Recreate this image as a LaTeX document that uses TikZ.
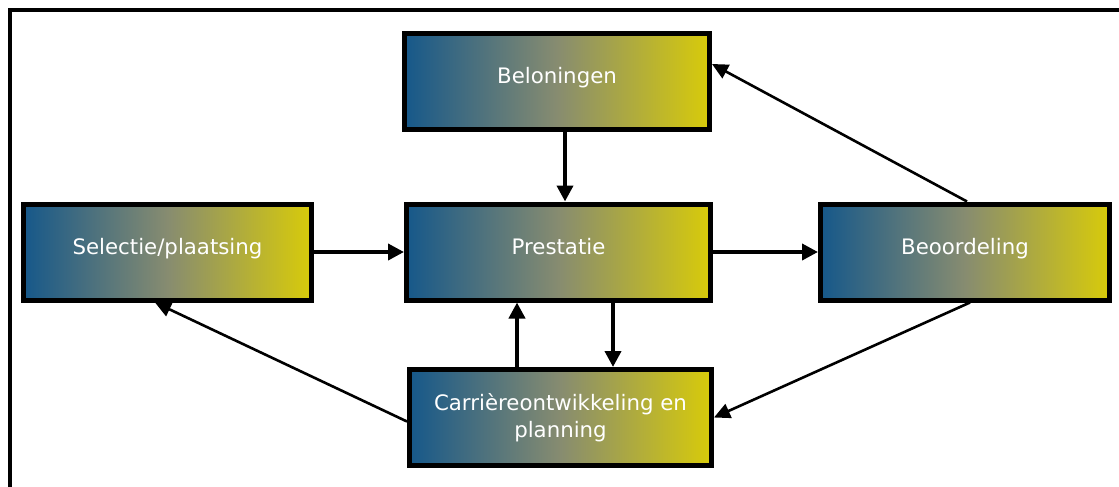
\documentclass[tikz,border=0pt]{standalone}
\usepackage{fontspec}
\setmainfont{DejaVu Sans}
\usetikzlibrary{arrows.meta}
\definecolor{gradblue}{RGB}{22,88,138}
\definecolor{gradmid}{RGB}{135,140,112}
\definecolor{gradyellow}{RGB}{216,203,10}
\begin{document}
\begin{tikzpicture}[x=1pt,y=-1pt,
  box/.style={draw=black, line width=5pt, left color=gradblue, right color=gradyellow,
    middle color=gradmid, minimum height=96pt, inner sep=2pt, text=white,
    font=\fontsize{21.3}{27}\selectfont, align=center},
  oneline/.style={text height=16pt, text depth=11pt},
  thick arrow/.style={line width=3.8pt, -{Triangle[length=16pt,width=16pt]}},
  thin arrow/.style={line width=2.6pt, -{Triangle[length=16pt,width=15pt]}}]
\useasboundingbox (0,0) rectangle (1119,487);
% outer frame (top and left edges)
\draw[line width=4pt] (10,487) -- (10,10) -- (1119,10);

% boxes
\node[box, oneline, minimum width=305pt] (bel) at (557,81.5) {Beloningen};
\node[box, oneline, minimum width=288pt] (sel) at (167.5,252) {Selectie/plaatsing};
\node[box, oneline, minimum width=304pt] (pres) at (558.5,252) {Prestatie};
\node[box, oneline, minimum width=289pt] (beo) at (965,252) {Beoordeling};
\node[box, minimum width=302pt] (carr) at (560.5,417.5) {Carrièreontwikkeling en\\planning};

% connectors
\draw[thick arrow] ([xshift=8pt]bel.south) -- ([xshift=8pt]bel.south |- pres.north);
\draw[thick arrow] (sel.east) -- (pres.west);
\draw[thick arrow] (pres.east) -- (beo.west);
\draw[thick arrow] ([xshift=54.5pt]pres.south) -- ([xshift=54.5pt]pres.south |- carr.north);
\draw[thick arrow] ([xshift=-43.5pt]carr.north) -- ([xshift=-43.5pt]carr.north |- pres.south);
\draw[thin arrow] ([xshift=2pt]beo.north) -- ([yshift=17.5pt]bel.east);
\draw[thin arrow] ([xshift=5pt]beo.south) -- (carr.east);
\draw[thin arrow] ([yshift=-4pt]carr.west) -- ([xshift=-12.5pt]sel.south);
\end{tikzpicture}
\end{document}
